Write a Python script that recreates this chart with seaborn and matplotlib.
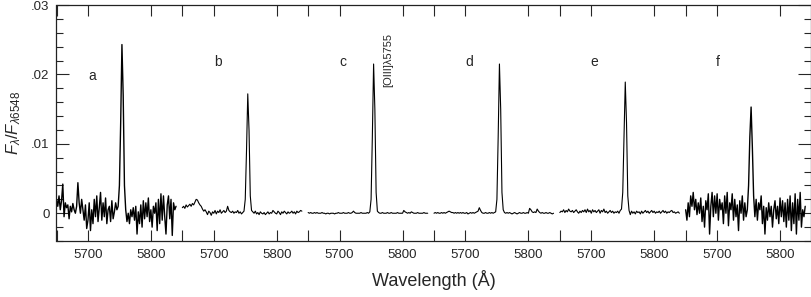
import numpy as np
import pandas as pd
import matplotlib
matplotlib.use('Agg')
import matplotlib.pyplot as plt
import seaborn as sns
from matplotlib.ticker import MultipleLocator

# Spectra around [OIII] 5755, six panels, flux in units of 1e-4 of F(6548)
# sampled every 2 A from 5650 A
WL_START = 5650
WL_STEP = 2
PANEL_SPAN = 200

panel_labels = ['a', 'b', 'c', 'd', 'e', 'f']
label_wl = [5707, 5707, 5705, 5706, 5704, 5701]
label_y = [0.0197, 0.0218, 0.0218, 0.0218, 0.0218, 0.0218]

flux_a = [20, 10, 25, 5, 18, 42, -5, 15, 8, 12,
          -8, 10, 2, 14, 5, 0, 10, 44, 15, 0,
          20, 5, -10, 12, -22, -10, 15, -25, 5, -15,
          20, -5, 25, -12, 8, 30, -10, 15, -5, 22,
          -15, 5, 10, -12, 18, -8, 2, 15, 5, 10,
          40, 130, 243, 170, 40, 5, -12, 0, -15, 5,
          -5, 8, -10, 10, -30, 2, -15, 12, -20, 18,
          -8, 15, -5, 22, -12, 5, -20, 10, 0, 15,
          -25, 20, -15, 28, -10, 25, -5, -30, 12, 25,
          -8, 20, -32, 15, 5, 10]
flux_b = [8, 10, 7, 12, 9, 11, 13, 10, 14, 12,
          16, 20, 19, 15, 12, 10, 6, 3, 5, 2,
          -2, 3, 1, -3, 2, 0, 4, -1, 3, 1,
          5, 0, 2, 4, 1, 3, 10, 4, 2, 1,
          3, 0, 2, 1, 4, 0, 2, -1, 1, 3,
          20, 90, 172, 120, 25, 4, 2, 0, 3, -1,
          1, -2, 2, 0, -1, 1, -2, 0, 2, -1,
          1, 0, 4, 2, 0, -1, 3, 1, -2, 2,
          0, 3, 1, -1, 2, 0, 1, 3, 0, 2,
          -1, 3, 1, 2, 4, 3]
flux_c = [1, 0, 1, 0, 0, 1, 0, 1, 0, 0,
          0, 1, 0, 0, -1, 0, 0, -1, 0, 0,
          0, -1, 0, 0, 1, 0, 0, 0, 1, 0,
          0, 0, 1, 0, 0, 1, 3, 1, 0, 0,
          0, 0, 1, 0, 0, 0, 0, 1, 0, 2,
          20, 110, 215, 150, 30, 3, 1, 0, 0, 1,
          0, 0, 0, 1, 0, 0, 1, 0, 0, 0,
          0, 1, 0, 0, 0, 0, 4, 2, 1, 0,
          1, 0, 2, 1, 0, 0, 0, 1, 0, 0,
          0, 0, 1, 0, 0, 0]
flux_d = [0, 1, 0, 1, 0, 0, 1, 0, 1, 0,
          1, 2, 3, 2, 1, 1, 0, 1, 0, 1,
          0, 1, 0, 1, 0, 0, 1, -1, 0, 1,
          0, 1, 0, 1, 2, 3, 8, 4, 1, 0,
          0, 1, 0, 0, 1, 0, 1, 0, 1, 2,
          20, 110, 215, 150, 30, 5, 1, 0, 1, 0,
          1, 0, -1, 0, 1, 0, -1, 0, 1, 0,
          0, 1, 0, 0, 1, 0, 7, 5, 2, 1,
          2, 1, 6, 3, 1, 0, 1, 0, 0, 1,
          0, 0, 1, 0, -1, 0]
flux_e = [1, 3, 2, 5, 1, 4, 2, 6, 3, 2,
          4, 1, 3, 5, 2, 0, 3, 1, 4, 2,
          5, 1, 6, 2, 4, 0, 5, 2, 4, 1,
          3, 5, 0, 4, 2, 6, 1, 3, 0, 2,
          4, 1, 3, 0, 2, 1, 3, 0, 4, 6,
          30, 110, 189, 130, 25, 4, -2, 3, 0, 2,
          -1, 3, 1, 2, -1, 3, 0, 2, 4, 1,
          3, 0, 2, 4, 1, 3, 0, 2, 1, 3,
          0, 2, 4, 1, 3, 0, 2, 1, 3, 4,
          1, 2, 0, 1, 2, 0]
flux_f = [5, -10, 15, -5, 25, 10, 30, 5, 20, -2,
          15, 0, 22, -12, 10, -20, 18, 5, 28, -30,
          10, 30, -5, 25, 0, 28, -10, 20, 5, 15,
          -15, 25, 0, 30, -18, 15, 5, 28, -10, 20,
          -5, 12, -25, 18, 0, 25, -10, 15, -5, 5,
          40, 110, 153, 95, 25, -5, 20, -10, 15, 5,
          25, -15, 10, -30, 8, -10, 15, -5, 10, -20,
          5, 18, -8, 10, -15, 22, -5, 18, -12, 15,
          -20, 20, -10, 25, -25, 15, -15, 28, -30, 20,
          -10, 30, -20, 5, -5, 10]
panel_fluxes = [flux_a, flux_b, flux_c, flux_d, flux_e, flux_f]
panel_lw = [1.0, 0.8, 0.8, 0.8, 0.8, 1.0]

oiii_label = '[OIII]λ5755'
oiii_wl = 5777
oiii_y = 0.0221

sns.set_style('ticks')
plt.rcParams['font.family'] = ['Liberation Sans', 'DejaVu Sans']
plt.rcParams['mathtext.fontset'] = 'custom'
plt.rcParams['mathtext.rm'] = 'Liberation Sans'
plt.rcParams['mathtext.it'] = 'Liberation Sans:italic'

fig = plt.figure(figsize=(8.12, 2.97), dpi=100)
ax = fig.add_axes([56.5 / 812, 1 - 241 / 297, (811.5 - 56.5) / 812, 236 / 297])

# each panel is shifted along one shared x axis
for i, flux in enumerate(panel_fluxes):
    offset = i * PANEL_SPAN
    wl = WL_START + WL_STEP * np.arange(len(flux))
    df = pd.DataFrame({'x': wl + offset, 'flux': np.array(flux) * 1e-4})
    sns.lineplot(data=df, x='x', y='flux', color='black', lw=panel_lw[i], ax=ax)
    ax.text(label_wl[i] + offset, label_y[i], panel_labels[i],
            ha='center', va='center', fontsize=10)

ax.text(oiii_wl + 2 * PANEL_SPAN, oiii_y, oiii_label, rotation=90,
        ha='center', va='center', fontsize=8)

n = len(panel_fluxes)
ax.set_xlim(WL_START, WL_START + n * PANEL_SPAN)
ax.set_ylim(-0.004, 0.03)

major_x = []
major_lbl = []
for i in range(n):
    for w in (5700, 5800):
        major_x.append(w + i * PANEL_SPAN)
        major_lbl.append(str(w))
ax.set_xticks(major_x)
ax.set_xticklabels(major_lbl)
ax.set_xticks([WL_START + i * PANEL_SPAN for i in range(n + 1)], minor=True)

ax.set_yticks([0, 0.01, 0.02, 0.03])
ax.set_yticklabels(['0', '.01', '.02', '.03'])
ax.yaxis.set_minor_locator(MultipleLocator(0.002))

ax.tick_params(axis='x', which='both', direction='in', top=True, bottom=True,
               length=8, width=0.8, labelsize=9.5, pad=6)
ax.tick_params(axis='y', which='major', direction='in', left=True, right=True,
               length=9.5, width=0.8, labelsize=9.5, pad=5)
ax.tick_params(axis='y', which='minor', direction='in', left=True, right=True,
               length=4.7, width=0.8)
for s in ax.spines.values():
    s.set_linewidth(0.9)
    s.set_color('#222222')

ax.set_xlabel('Wavelength (Å)', fontsize=13, labelpad=6)
ax.set_ylabel(r'$F_\lambda / F_{\lambda 6548}$', fontsize=12, labelpad=6)

fig.savefig('out.png', dpi=100)
